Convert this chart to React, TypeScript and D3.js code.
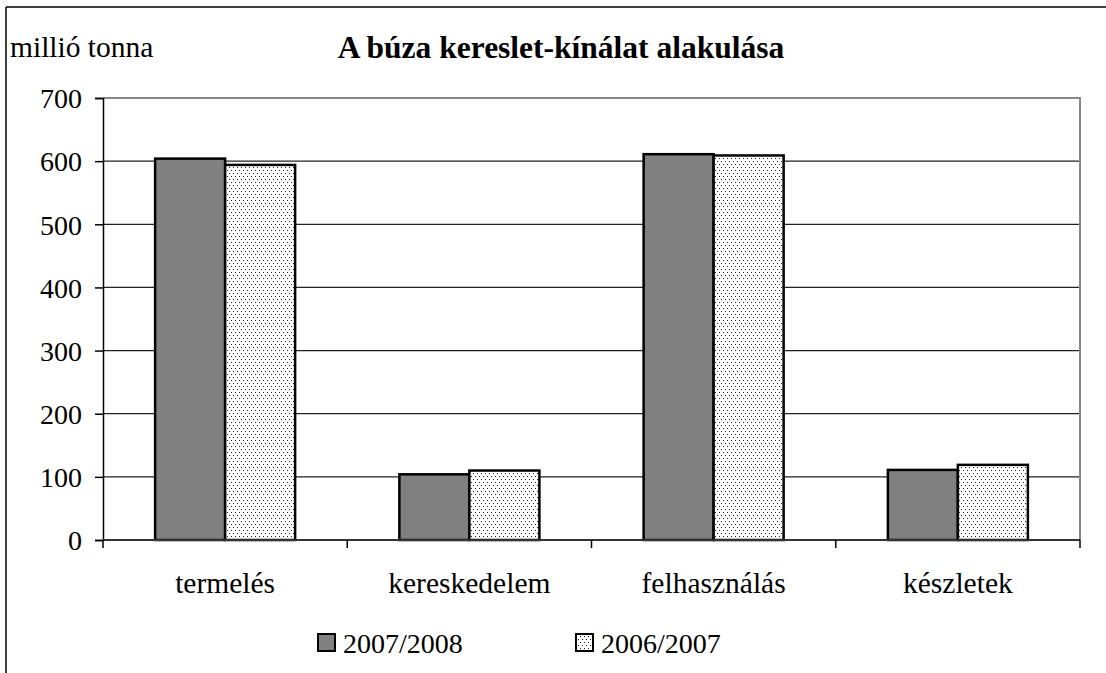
import { useEffect, useRef } from 'react'
import * as d3 from 'd3'

const categories = ['termelés', 'kereskedelem', 'felhasználás', 'készletek']
const seriesNames = ['2007/2008', '2006/2007']
const values2007 = [604, 104, 611, 111]
const values2006 = [594, 110, 609, 119]
const yTicks = [0, 100, 200, 300, 400, 500, 600, 700]

const FONT = '"Liberation Serif", "Times New Roman", serif'

export default function App() {
  const svgRef = useRef<SVGSVGElement>(null)

  useEffect(() => {
    if (!svgRef.current) return
    const W = 1106
    const H = 673
    const margin = { top: 98, right: 26, bottom: 133, left: 103 }
    const w = W - margin.left - margin.right
    const h = H - margin.top - margin.bottom

    const svg = d3.select(svgRef.current)
    svg.selectAll('*').remove()
    svg.attr('width', W).attr('height', H)

    // dotted pattern for the 2006/2007 series
    const defs = svg.append('defs')
    const pat = defs.append('pattern')
      .attr('id', 'dots').attr('patternUnits', 'userSpaceOnUse')
      .attr('width', 4).attr('height', 6)
    pat.append('rect').attr('width', 4).attr('height', 6).attr('fill', '#fff')
    pat.append('rect').attr('x', 0).attr('y', 0).attr('width', 1).attr('height', 1).attr('fill', '#222')
    pat.append('rect').attr('x', 2).attr('y', 3).attr('width', 1).attr('height', 1).attr('fill', '#222')

    // outer frame (left + top)
    svg.append('line').attr('x1', 6).attr('x2', 6).attr('y1', 7).attr('y2', H)
      .attr('stroke', '#000').attr('stroke-width', 1.5)
    svg.append('line').attr('x1', 6).attr('x2', W).attr('y1', 7).attr('y2', 7)
      .attr('stroke', '#000').attr('stroke-width', 1.5)

    const g = svg.append('g').attr('transform', `translate(${margin.left},${margin.top})`)

    const y = d3.scaleLinear().domain([0, 700]).range([h, 0])
    const x0 = d3.scaleBand().domain(categories).range([0, w]).padding(0)
    const groupW = 140
    const x1 = d3.scaleBand().domain(seriesNames).range([0, groupW])

    // grid
    g.append('g').selectAll('line')
      .data(yTicks.filter(t => t > 0 && t < 700)).enter().append('line')
      .attr('x1', 0).attr('x2', w)
      .attr('y1', d => y(d)).attr('y2', d => y(d))
      .attr('stroke', '#222').attr('stroke-width', 1.2)

    // plot border (top + right)
    g.append('path')
      .attr('d', `M0,${y(700)}H${w}V${h}`)
      .attr('fill', 'none').attr('stroke', '#888').attr('stroke-width', 2)

    // bars
    const seriesData = [
      { name: seriesNames[0], vals: values2007, fill: '#808080' },
      { name: seriesNames[1], vals: values2006, fill: 'url(#dots)' },
    ]
    seriesData.forEach(s => {
      categories.forEach((c, i) => {
        const bx = x0(c)! + (x0.bandwidth() - groupW) / 2 + x1(s.name)!
        g.append('rect')
          .attr('x', bx).attr('y', y(s.vals[i]))
          .attr('width', x1.bandwidth()).attr('height', h - y(s.vals[i]))
          .attr('fill', s.fill).attr('stroke', '#000').attr('stroke-width', 2.5)
      })
    })

    // y axis
    g.append('g')
      .call(d3.axisLeft(y).tickValues(yTicks).tickSize(8).tickFormat(d => String(d)))
      .call(ax => ax.select('.domain').attr('stroke', '#000').attr('stroke-width', 1.5))
      .call(ax => ax.selectAll('.tick line').attr('stroke', '#000').attr('stroke-width', 1.5))
      .call(ax => ax.selectAll('text')
        .attr('x', -21).attr('dy', '0.35em')
        .attr('fill', '#000').attr('font-size', '28px').attr('font-family', FONT))

    // x axis
    g.append('line').attr('x1', 0).attr('x2', w).attr('y1', h).attr('y2', h)
      .attr('stroke', '#333').attr('stroke-width', 2)
    const bounds = categories.map(c => x0(c)!).concat([w])
    g.append('g').selectAll('line')
      .data(bounds).enter().append('line')
      .attr('x1', d => d).attr('x2', d => d)
      .attr('y1', h).attr('y2', h + 8)
      .attr('stroke', '#000').attr('stroke-width', 1.5)
    g.append('g').selectAll('text')
      .data(categories).enter().append('text')
      .attr('x', d => x0(d)! + x0.bandwidth() / 2)
      .attr('y', h + 53)
      .attr('text-anchor', 'middle')
      .attr('font-size', '29.5px').attr('font-family', FONT).attr('fill', '#000')
      .text(d => d)

    // title and unit
    svg.append('text').attr('x', 561).attr('y', 58).attr('text-anchor', 'middle')
      .attr('font-size', '31.5px').attr('font-weight', 'bold').attr('font-family', FONT)
      .text('A búza kereslet-kínálat alakulása')
    svg.append('text').attr('x', 10).attr('y', 57)
      .attr('font-size', '29.5px').attr('font-family', FONT)
      .text('millió tonna')

    // legend
    const legendX = [318, 576]
    seriesData.forEach((s, i) => {
      svg.append('rect')
        .attr('x', legendX[i]).attr('y', 634)
        .attr('width', 17).attr('height', 17)
        .attr('fill', s.fill).attr('stroke', '#000').attr('stroke-width', 2)
      svg.append('text')
        .attr('x', legendX[i] + 25).attr('y', 653)
        .attr('font-size', '28px').attr('font-family', FONT)
        .text(s.name)
    })
  }, [])

  return (
    <div style={{ position: 'fixed', left: 0, top: 0, background: '#fff' }}>
      <svg ref={svgRef} style={{ display: 'block' }} />
    </div>
  )
}
